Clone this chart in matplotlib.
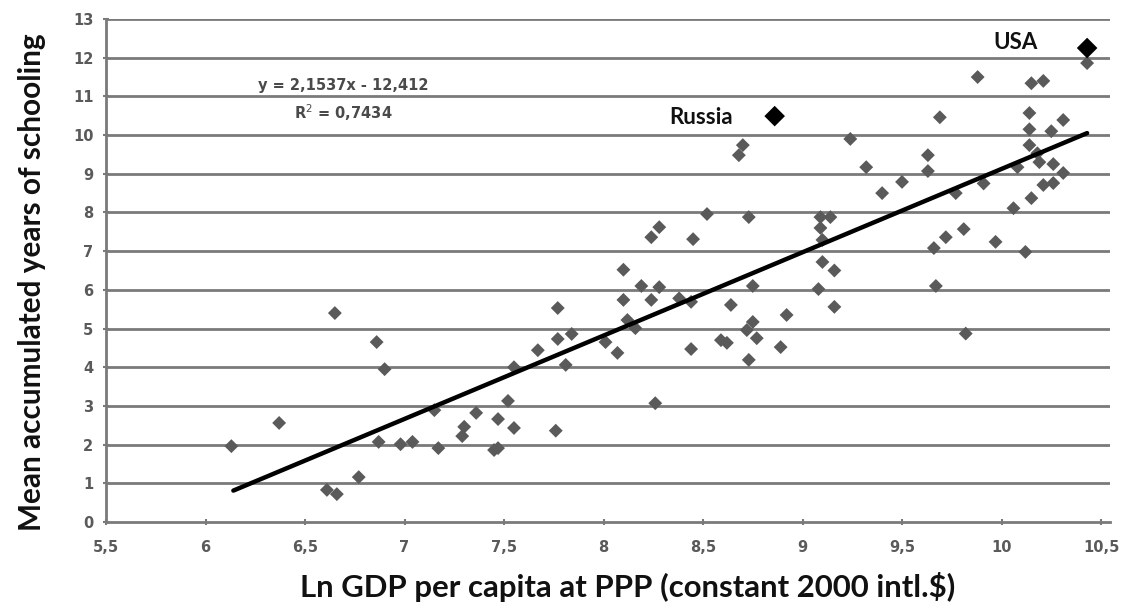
import matplotlib
matplotlib.use("Agg")
import matplotlib.pyplot as plt
from matplotlib.ticker import FuncFormatter
import numpy as np

# Data: (ln GDP per capita, mean years of schooling)
ln_gdp = [6.13, 6.37, 6.61, 6.66, 6.65, 6.77, 6.86, 6.87, 6.90, 6.98, 7.04, 7.15, 7.17,
          7.29, 7.30, 7.36, 7.45, 7.47, 7.47, 7.52, 7.55, 7.55, 7.67, 7.76, 7.77, 7.77,
          7.81, 7.84, 8.01, 8.07, 8.10, 8.10, 8.12, 8.16, 8.19, 8.24, 8.24, 8.26, 8.28,
          8.28, 8.38, 8.44, 8.44, 8.45, 8.52, 8.59, 8.62, 8.64, 8.68, 8.70, 8.72, 8.73,
          8.73, 8.75, 8.75, 8.77, 8.89, 8.92, 9.08, 9.09, 9.09, 9.10, 9.10, 9.14, 9.16,
          9.16, 9.24, 9.32, 9.40, 9.50, 9.63, 9.63, 9.66, 9.67, 9.69, 9.72, 9.77, 9.81,
          9.82, 9.88, 9.91, 9.97, 10.06, 10.08, 10.12, 10.14, 10.14, 10.14, 10.15,
          10.15, 10.18, 10.19, 10.21, 10.21, 10.25, 10.26, 10.26, 10.31, 10.31, 10.43]
schooling = [1.96, 2.56, 0.83, 0.72, 5.40, 1.16, 4.65, 2.07, 3.95, 2.01, 2.07, 2.89, 1.91,
             2.22, 2.46, 2.82, 1.86, 1.91, 2.66, 3.13, 2.43, 4.00, 4.44, 2.36, 4.73, 5.53,
             4.06, 4.86, 4.65, 4.37, 6.52, 5.74, 5.22, 5.01, 6.10, 5.74, 7.36, 3.07, 6.07,
             7.62, 5.78, 5.69, 4.47, 7.31, 7.96, 4.70, 4.63, 5.61, 9.48, 9.74, 4.96, 4.19,
             7.88, 5.17, 6.10, 4.75, 4.52, 5.35, 6.02, 7.88, 7.60, 7.29, 6.72, 7.88, 6.50,
             5.56, 9.90, 9.17, 8.50, 8.79, 9.48, 9.07, 7.08, 6.10, 10.46, 7.36, 8.50, 7.57,
             4.87, 11.50, 8.75, 7.24, 8.11, 9.17, 6.98, 10.57, 10.15, 9.74, 11.34, 8.37,
             9.53, 9.30, 11.40, 8.71, 10.10, 9.25, 8.76, 10.39, 9.02, 11.86]

highlight_names = ["Russia", "USA"]
highlight_x = [8.86, 10.43]
highlight_y = [10.49, 12.25]

slope, intercept = 2.1537, -12.412
fit_x = [6.14, 10.43]

x_ticks = [5.5, 6, 6.5, 7, 7.5, 8, 8.5, 9, 9.5, 10, 10.5]
y_ticks = list(range(0, 14))

fig = plt.figure(figsize=(11.32, 6.06), dpi=100)
ax = fig.add_axes([106/1132, 1-522/606, (1110-106)/1132, (522-19)/606])

ax.set_xlim(5.5, 10.545)
ax.set_ylim(0, 13)

for yv in y_ticks[1:]:
    ax.axhline(yv, color="#7a7a7a", lw=2.0, zorder=1)

ax.scatter(ln_gdp, schooling, marker="D", s=50, color="#5a5a5a", edgecolors="none", zorder=3)
ax.scatter(highlight_x, highlight_y, marker="D", s=110, color="#000000", edgecolors="none", zorder=4)

fx = np.array(fit_x)
ax.plot(fx, slope*fx + intercept, color="black", lw=3.2, zorder=5, solid_capstyle="round")

ax.text(8.65, 10.45, highlight_names[0], ha="right", va="center", fontsize=16,
        fontweight="bold", family="Lato", color="#111111")
ax.text(10.18, 12.38, highlight_names[1], ha="right", va="center", fontsize=16,
        fontweight="bold", family="Lato", color="#111111")

ax.text(6.69, 11.29, "y = 2,1537x - 12,412", ha="center", va="center", fontsize=10.5,
        color="#4a4a4a", family="Liberation Sans Narrow", fontweight="bold")
ax.text(6.69, 10.59, "R$^2$ = 0,7434", ha="center", va="center", fontsize=10.5,
        color="#4a4a4a", family="Liberation Sans Narrow", fontweight="bold")

for s in ["top", "right"]:
    ax.spines[s].set_visible(False)
ax.spines["left"].set_color("#7a7a7a")
ax.spines["left"].set_linewidth(2)
ax.spines["bottom"].set_color("#7a7a7a")
ax.spines["bottom"].set_linewidth(2)

ax.set_xticks(x_ticks)
ax.set_yticks(y_ticks)
fmt = FuncFormatter(lambda v, p: (f"{v:g}").replace(".", ","))
ax.xaxis.set_major_formatter(fmt)
ax.yaxis.set_major_formatter(fmt)
ax.tick_params(axis="both", colors="#7a7a7a", labelcolor="#5a5a5a", labelsize=10.5,
               length=4, width=1.5, direction="inout")
ax.tick_params(axis="x", pad=11)
ax.tick_params(axis="y", pad=7)
for lab in ax.get_xticklabels() + ax.get_yticklabels():
    lab.set_family("Liberation Sans Narrow")
    lab.set_fontweight("bold")

fig.text(628/1132, 9/606, "Ln GDP per capita at PPP (constant 2000 intl.$)", fontsize=22.4,
         fontweight="bold", family="Lato", color="#111111", ha="center", va="baseline")
fig.text(32/1132, 1-282/606, "Mean accumulated years of schooling", fontsize=21.4,
         fontweight="bold", family="Lato", color="#111111", ha="center", va="center",
         rotation=90)

fig.savefig("out.png", dpi=100, facecolor="white")
